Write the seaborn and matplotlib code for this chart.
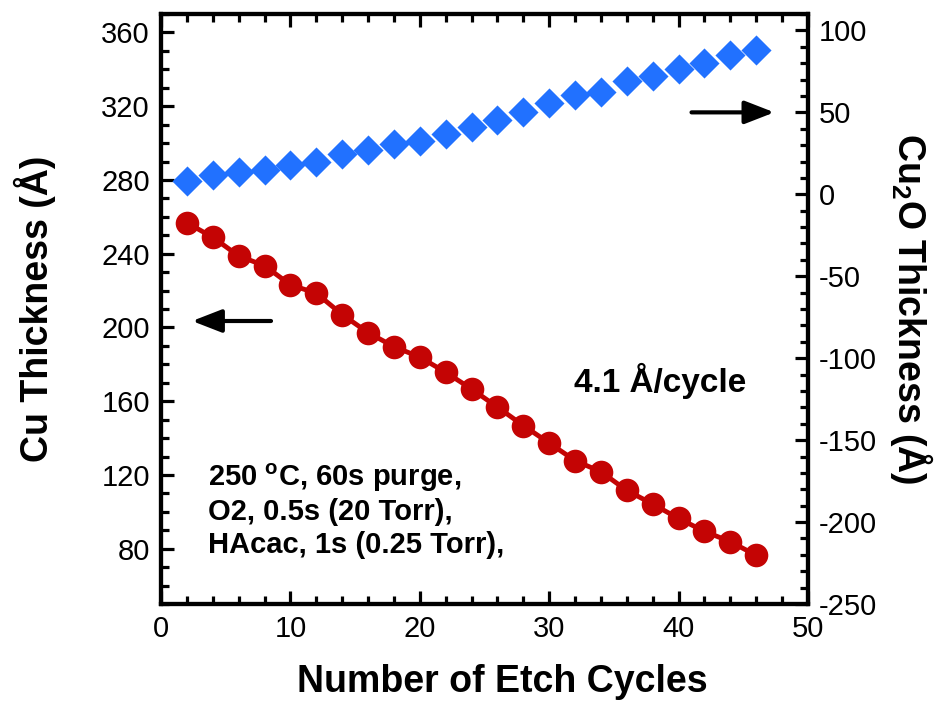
import numpy as np
import pandas as pd
import matplotlib
matplotlib.use("Agg")
import matplotlib.pyplot as plt
import matplotlib.font_manager as fm
import seaborn as sns

# data
cycles = [2, 4, 6, 8, 10, 12, 14, 16, 18, 20, 22, 24,
          26, 28, 30, 32, 34, 36, 38, 40, 42, 44, 46]
cu_thickness = [256.8, 248.9, 238.8, 233.5, 223.1, 218.6, 207.0, 197.2,
                189.6, 183.9, 175.7, 166.6, 156.8, 146.8, 137.3, 127.8,
                121.7, 111.6, 104.2, 96.4, 89.4, 83.8, 76.4]
cu2o_thickness = [8.1, 11.7, 13.4, 15.0, 18.1, 19.9, 24.8, 27.2, 31.0, 32.4,
                  36.5, 40.8, 45.4, 50.3, 55.5, 60.6, 62.2, 68.9, 72.4, 76.5,
                  80.1, 85.0, 88.0]

df = pd.DataFrame({"cycles": cycles, "cu": cu_thickness, "cu2o": cu2o_thickness})

# keep the narrow Liberation variant from being picked for bold text
fm.fontManager.ttflist = [f for f in fm.fontManager.ttflist if "Narrow" not in f.name]

sns.set_style("ticks")
plt.rcParams["font.family"] = ["Liberation Sans", "DejaVu Sans"]
plt.rcParams["mathtext.fontset"] = "custom"
plt.rcParams["mathtext.rm"] = "Liberation Sans"
plt.rcParams["mathtext.bf"] = "Liberation Sans:bold"
plt.rcParams["axes.unicode_minus"] = False
plt.rcParams["text.color"] = "black"
plt.rcParams["axes.labelcolor"] = "black"
plt.rcParams["axes.edgecolor"] = "black"
plt.rcParams["xtick.color"] = "black"
plt.rcParams["ytick.color"] = "black"

red = "#C40404"
blue = "#2171FF"

fig = plt.figure(figsize=(9.45, 7.02), dpi=100)
ax = fig.add_axes([0.1704, 0.1396, 0.6846, 0.8404])
ax2 = ax.twinx()

# Cu thickness (left axis)
sns.lineplot(data=df, x="cycles", y="cu", ax=ax, color=red, linewidth=3.5,
             marker="o", markersize=17, markeredgewidth=0, zorder=3)

# Cu2O thickness (right axis)
sns.scatterplot(data=df, x="cycles", y="cu2o", ax=ax2, color=blue,
                marker="D", s=235, linewidth=0, zorder=3)

ax.set_xlim(0, 50)
ax.set_ylim(50, 370)
ax2.set_ylim(-250, 110)

ax.set_xticks(np.arange(0, 51, 10))
ax.set_xticks(np.arange(0, 51, 2), minor=True)
ax.set_yticks(np.arange(80, 361, 40))
ax.set_yticks(np.arange(50, 371, 10), minor=True)
ax2.set_yticks(np.arange(-250, 101, 50))
ax2.set_yticks(np.arange(-250, 111, 10), minor=True)

for a in (ax, ax2):
    for s in a.spines.values():
        s.set_linewidth(3)
        s.set_visible(True)
        s.set_color("black")
    a.tick_params(which="major", direction="in", length=9.5, width=2.3,
                  labelsize=21, pad=8, colors="black")
    a.tick_params(which="minor", direction="in", length=6, width=2.3,
                  colors="black")

ax.tick_params(axis="x", which="both", top=True, bottom=True)
ax.tick_params(axis="y", which="both", left=True, right=False)
ax2.tick_params(axis="y", which="both", left=False, right=True)

ax.set_xlabel("Number of Etch Cycles", fontsize=27, fontweight="bold")
ax.xaxis.set_label_coords(0.527, -0.102)
ax.set_ylabel("Cu Thickness (Å)", fontsize=27, fontweight="bold")
ax.yaxis.set_label_coords(-0.162, 0.50)
ax2.set_ylabel(r"Cu$_\mathbf{2}$O Thickness (Å)", fontsize=27, fontweight="bold",
               rotation=270)
ax2.yaxis.set_label_coords(1.196, 0.50)

# arrows pointing at each axis
arrow = dict(arrowstyle="-|>,head_length=1.8,head_width=0.7",
             color="black", lw=3, shrinkA=0, shrinkB=0)
ax.annotate("", xy=(2.4, 203.5), xytext=(8.5, 203.5), arrowprops=arrow)
ax2.annotate("", xy=(47.4, 50), xytext=(41.0, 50), arrowprops=arrow)

ax.text(38.6, 171, "4.1 Å/cycle", fontsize=24, fontweight="bold",
        ha="center", va="center")
ax.text(3.6, 118.5, "250 $^\\mathbf{o}$C, 60s purge,", fontsize=21,
        fontweight="bold", ha="left", va="center")
ax.text(3.6, 100, "O2, 0.5s (20 Torr),", fontsize=21,
        fontweight="bold", ha="left", va="center")
ax.text(3.6, 82, "HAcac, 1s (0.25 Torr),", fontsize=21,
        fontweight="bold", ha="left", va="center")

fig.savefig("out.png", dpi=100)
